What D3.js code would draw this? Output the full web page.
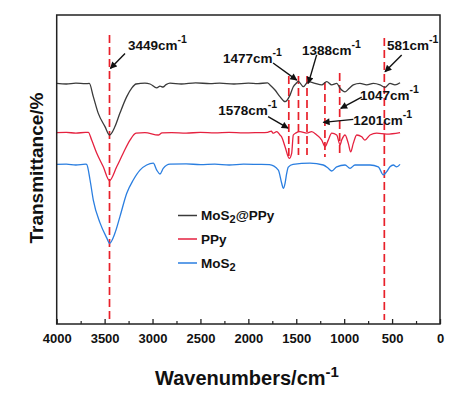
<!DOCTYPE html>
<html>
<head>
<meta charset="utf-8">
<script src="https://d3js.org/d3.v7.min.js"></script>
<style>
  body { margin: 0; background: #fff; }
  text { font-family: "Liberation Sans", Arial, sans-serif; font-weight: bold; fill: #111; }
</style>
</head>
<body>
<div id="chart"></div>
<script>
// spectra: [wavenumber, transmittance (offset, a.u.)]
const mos2ppy = [[4000,80.2],[3900,80.0],[3800,80.3],[3700,80.1],[3660,80.2],[3618,75.8],[3566,70.2],[3496,65.8],[3449,63.0],
  [3392,65.8],[3340,70.3],[3269,75.8],[3217,78.6],[3172,80.0],[3079,80.3],[3026,80.0],[2956,78.7],[2922,79.3],[2891,79.0],
  [2859,79.8],[2818,80.3],[2700,80.0],[2550,80.4],[2400,80.1],[2300,80.3],[2150,80.0],[2000,80.3],[1900,80.1],[1800,80.4],
  [1774,79.7],[1722,78.0],[1670,75.8],[1617,74.1],[1565,76.3],[1531,79.1],[1495,80.4],[1479,80.9],[1426,79.1],[1374,80.8],
  [1304,80.2],[1234,79.7],[1182,80.8],[1130,79.7],[1078,80.2],[1043,78.6],[991,77.4],[946,78.6],[905,79.7],[835,80.2],
  [765,79.7],[696,80.2],[626,79.7],[574,78.9],[522,80.2],[470,79.7],[417,80.4]];

const ppy = [[4000,63.8],[3900,63.9],[3800,63.6],[3700,63.9],[3670,63.9],[3635,61.3],[3583,57.0],[3514,52.4],[3449,47.8],
  [3374,52.4],[3305,57.0],[3235,61.3],[3172,63.6],[3079,63.8],[2940,63.0],[2901,63.7],[2800,63.8],[2650,63.6],[2500,63.9],
  [2350,63.7],[2200,63.9],[2050,63.7],[1900,63.8],[1800,63.9],[1760,64.3],[1743,63.6],[1704,64.1],[1670,63.0],[1653,62.4],
  [1617,59.1],[1573,55.2],[1548,56.9],[1531,63.0],[1503,63.7],[1461,64.1],[1391,63.6],[1339,64.1],[1287,63.0],[1234,61.3],
  [1200,59.1],[1166,61.3],[1130,63.6],[1078,63.0],[1043,59.7],[1026,61.3],[991,63.0],[957,60.2],[932,57.4],[905,60.2],
  [869,63.0],[817,62.4],[783,61.3],[730,63.0],[661,63.6],[556,63.3],[417,63.8]];

const mos2 = [[4000,53.2],[3900,53.3],[3800,53.0],[3700,53.3],[3687,53.2],[3652,48.0],[3618,41.3],[3548,33.7],[3478,28.7],
  [3449,26.9],[3392,30.3],[3340,35.8],[3269,43.6],[3201,48.0],[3131,51.3],[3061,53.0],[2992,53.6],[2956,51.3],[2922,50.0],
  [2888,51.9],[2818,53.3],[2650,53.4],[2500,53.1],[2350,53.3],[2200,53.0],[2050,53.3],[1900,53.2],[1780,53.1],[1687,51.3],
  [1652,46.9],[1635,45.2],[1617,46.9],[1600,50.2],[1583,52.3],[1534,53.2],[1357,53.6],[1218,53.0],[1166,51.9],[1130,51.0],
  [1078,52.4],[991,53.0],[939,51.9],[887,53.0],[730,53.0],[644,52.4],[592,49.7],[556,50.8],[522,52.4],[487,53.0],[452,52.4],[417,53.2]];

const seriesNames = ["MoS2@PPy", "PPy", "MoS2"];
const seriesColors = ["#3a3a3a", "#e5213f", "#2a7ee0"];

// marked peaks: wavenumber, top and bottom of the dashed line
const peakWaves = [3449, 1578, 1477, 1388, 1201, 1047, 581];
const peakTop = [96.3, 82.7, 82.7, 82.7, 80.7, 83.7, 95.3];
const peakBottom = [1.3, 55.3, 56.3, 56.3, 55.7, 56.3, 1.3];

// labels: text anchor point, arrow start and tip (data units)
const labelText = ["3449", "1477", "1388", "581", "1047", "1201", "1578"];
const labelPos = [[3256,91.3],[2264,87.0],[1440,89.7],[553,91.3],[835,74.7],[905,66.3],[2314,69.7]];
const arrowFrom = [[3287,90.2],[1742,87.0],[1287,89.7],[400,89.7],[817,75.6],[905,68.2],[1794,69.1]];
const arrowTo = [[3440,85.2],[1495,81.3],[1374,80.2],[574,84.1],[1036,71.9],[1218,67.2],[1586,65.3]];

const xTicks = [4000, 3500, 3000, 2500, 2000, 1500, 1000, 500, 0];
const xMinor = [3750, 3250, 2750, 2250, 1750, 1250, 750, 250];

const width = 474, height = 395;
const plotL = 56.7, plotR = 440, plotT = 15, plotB = 324;

const svg = d3.select("#chart").append("svg")
  .attr("width", width).attr("height", height);

const x = d3.scaleLinear().domain([4000, 0]).range([plotL, plotR]);
const y = d3.scaleLinear().domain([0, 103]).range([plotB, plotT]);

svg.append("defs").append("marker")
  .attr("id", "arrow")
  .attr("viewBox", "0 0 10 10")
  .attr("refX", 9).attr("refY", 5)
  .attr("markerUnits", "userSpaceOnUse")
  .attr("markerWidth", 8).attr("markerHeight", 7)
  .attr("orient", "auto")
  .append("path").attr("d", "M0,0L10,5L0,10z").attr("fill", "#111");

// dashed peak lines
svg.selectAll(".peak").data(peakWaves).enter().append("line")
  .attr("class", "peak")
  .attr("x1", d => x(d)).attr("x2", d => x(d))
  .attr("y1", (d, i) => y(peakTop[i])).attr("y2", (d, i) => y(peakBottom[i]))
  .attr("stroke", "#e8202a").attr("stroke-width", 1.7)
  .attr("stroke-dasharray", "8,4");

// spectra
const line = d3.line()
  .x(d => x(d[0])).y(d => y(d[1]))
  .curve(d3.curveMonotoneX);

[mos2ppy, ppy, mos2].forEach(function(s, i) {
  svg.append("path").datum(s)
    .attr("d", line)
    .attr("fill", "none")
    .attr("stroke", seriesColors[i])
    .attr("stroke-width", 1.3);
});

// arrows
svg.selectAll(".arr").data(arrowFrom).enter().append("line")
  .attr("class", "arr")
  .attr("x1", d => x(d[0])).attr("y1", d => y(d[1]))
  .attr("x2", (d, i) => x(arrowTo[i][0])).attr("y2", (d, i) => y(arrowTo[i][1]))
  .attr("stroke", "#111").attr("stroke-width", 1.4)
  .attr("marker-end", "url(#arrow)");

// labels
const lab = svg.selectAll(".lab").data(labelText).enter().append("text")
  .attr("class", "lab")
  .attr("x", (d, i) => x(labelPos[i][0]))
  .attr("y", (d, i) => y(labelPos[i][1]))
  .style("font-size", "13.5px");
lab.append("tspan").text(d => d + "cm");
lab.append("tspan").attr("dy", -7).style("font-size", "10.5px").text("-1");

// frame
svg.append("rect")
  .attr("x", plotL).attr("y", plotT)
  .attr("width", plotR - plotL).attr("height", plotB - plotT)
  .attr("fill", "none").attr("stroke", "#222").attr("stroke-width", 1.5);

// x axis
const xAxis = d3.axisBottom(x).tickValues(xTicks).tickSizeInner(-5).tickSizeOuter(0).tickPadding(10)
  .tickFormat(d3.format("d"));
const gx = svg.append("g").attr("transform", "translate(0," + plotB + ")").call(xAxis);
gx.select(".domain").remove();
gx.selectAll("line").attr("stroke", "#222").attr("stroke-width", 1.3);
gx.selectAll("text").style("font-size", "13px").style("font-family", "Liberation Sans, Arial, sans-serif")
  .style("font-weight", "bold").attr("fill", "#111");

const gm = svg.append("g").attr("transform", "translate(0," + plotB + ")")
  .call(d3.axisBottom(x).tickValues(xMinor).tickSizeInner(-3).tickSizeOuter(0).tickFormat(""));
gm.select(".domain").remove();
gm.selectAll("line").attr("stroke", "#222").attr("stroke-width", 1.2);

// axis titles
const xt = svg.append("text")
  .attr("x", 247).attr("y", 385)
  .attr("text-anchor", "middle")
  .style("font-size", "20px");
xt.append("tspan").text("Wavenumbers/cm");
xt.append("tspan").attr("dy", -8).style("font-size", "15px").text("-1");

svg.append("text")
  .attr("transform", "translate(43,168) rotate(-90)")
  .attr("text-anchor", "middle")
  .style("font-size", "19px")
  .text("Transmittance/%");

// legend
const legY = [215.5, 239, 263];
const leg = svg.selectAll(".leg").data(seriesNames).enter().append("g")
  .attr("class", "leg")
  .attr("transform", (d, i) => "translate(178," + legY[i] + ")");
leg.append("line").attr("x1", 0).attr("x2", 19)
  .attr("stroke", (d, i) => seriesColors[i]).attr("stroke-width", 1.5);
const lt = leg.append("text").attr("x", 23).attr("y", 4.5).style("font-size", "13.5px");
lt.each(function(d) {
  const t = d3.select(this);
  if (d.indexOf("MoS2") === 0) {
    t.append("tspan").text("MoS");
    t.append("tspan").attr("dy", 3).style("font-size", "11px").text("2");
    if (d.length > 4) t.append("tspan").attr("dy", -3).text(d.slice(4));
  } else {
    t.text(d);
  }
});
</script>
</body>
</html>
